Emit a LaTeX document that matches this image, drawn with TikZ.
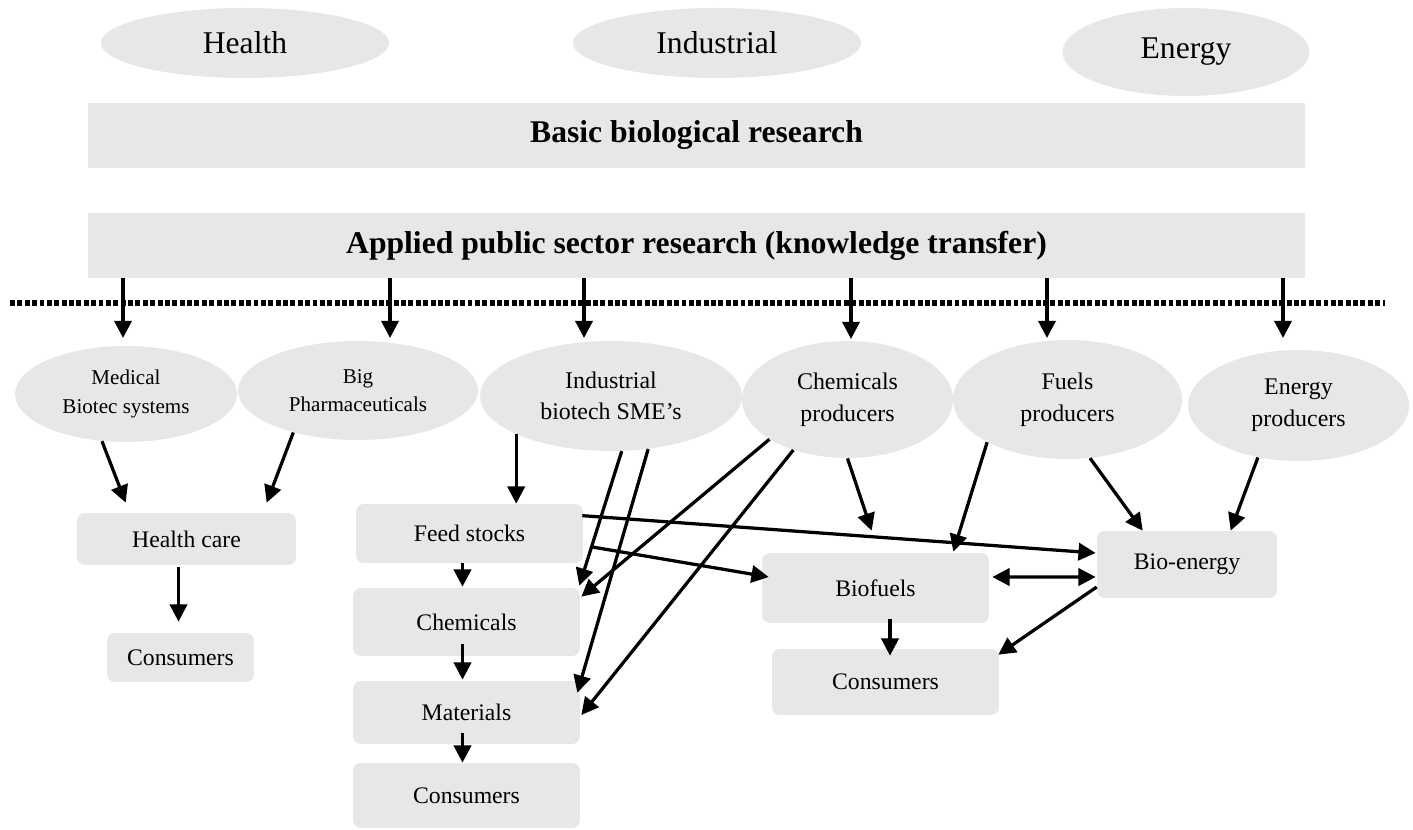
\documentclass[tikz,border=0pt]{standalone}
\usepackage{fontspec}
\setmainfont{Liberation Serif}
\usetikzlibrary{shapes.geometric,arrows.meta,calc}
\definecolor{boxgray}{RGB}{230,231,232}
\begin{document}
\begin{tikzpicture}[x=0.02cm,y=-0.02cm,
  topell/.style={ellipse, fill=boxgray, inner sep=0pt, font=\fontsize{18}{22}\selectfont},
  midell/.style={ellipse, fill=boxgray, inner sep=0pt, align=center, font=\fontsize{13.6}{18}\selectfont},
  smallell/.style={ellipse, fill=boxgray, inner sep=0pt, align=center, font=\fontsize{12}{16}\selectfont},
  bar/.style={rectangle, fill=boxgray, inner sep=0pt, font=\bfseries\fontsize{18}{22}\selectfont, minimum width=24.34cm, minimum height=1.3cm},
  gbox/.style={rectangle, rounded corners=4.5pt, fill=boxgray, inner sep=0pt, font=\fontsize{13.5}{16}\selectfont},
  arr/.style={-{Triangle[length=9.8pt,width=9.8pt]}, line width=1.85pt},
  arrtwo/.style={{Triangle[length=9.8pt,width=9.8pt]}-{Triangle[length=9.8pt,width=9.8pt]}, line width=1.85pt},
  dotline/.style={line width=3pt, dash pattern=on 2.8pt off 1.4pt}
]
\useasboundingbox (0,0) rectangle (1413,830);

% top ellipses
\node[topell, minimum width=5.76cm, minimum height=1.4cm] (health) at (245,43) {Health};
\node[topell, minimum width=5.76cm, minimum height=1.4cm] (industrial) at (717,43) {Industrial};
\node[topell, minimum width=4.94cm, minimum height=1.76cm] (energy) at (1186,52) {Energy};

% bars
\node[bar] (basic) at (696.5,135.5) {Basic biological research};
\node[bar] (applied) at (696.5,245.5) {Applied public sector research (knowledge transfer)};

% dotted line
\coordinate (dl) at (10,303);
\coordinate (dr) at (1385,303);
\draw[dotline] (dl) -- (dr);

% producer ellipses
\node[smallell, minimum width=4.44cm, minimum height=1.92cm] (med) at (126,394) {Medical\\Biotec systems};
\node[smallell, minimum width=4.8cm, minimum height=1.98cm] (pharma) at (358,390.5) {Big\\Pharmaceuticals};
\node[midell, minimum width=5.24cm, minimum height=2.2cm] (isme) at (611,396) {Industrial\\biotech SME’s};
\node[midell, minimum width=4.22cm, minimum height=2.34cm] (chemp) at (847.5,399.5) {Chemicals\\producers};
\node[midell, minimum width=4.58cm, minimum height=2.38cm] (fuelsp) at (1067.5,399.5) {Fuels\\producers};
\node[midell, minimum width=4.42cm, minimum height=2.22cm] (energyp) at (1298.5,405.5) {Energy\\producers};

% boxes
\node[gbox, minimum width=4.38cm, minimum height=1.04cm] (hc) at (186.5,539) {Health care};
\node[gbox, minimum width=2.94cm, minimum height=0.98cm] (consL) at (180.5,657.5) {Consumers};
\node[gbox, minimum width=4.54cm, minimum height=1.18cm] (feed) at (469.5,533.5) {Feed stocks};
\node[gbox, minimum width=4.54cm, minimum height=1.36cm] (chem) at (466.5,622) {Chemicals};
\node[gbox, minimum width=4.54cm, minimum height=1.26cm] (mat) at (466.5,712.5) {Materials};
\node[gbox, minimum width=4.54cm, minimum height=1.3cm] (consM) at (466.5,795.5) {Consumers};
\node[gbox, minimum width=4.54cm, minimum height=1.4cm] (biofuels) at (875.5,588) {Biofuels};
\node[gbox, minimum width=4.54cm, minimum height=1.32cm] (consR) at (885.5,682) {Consumers};
\node[gbox, minimum width=3.6cm, minimum height=1.34cm] (bioe) at (1187,564.5) {Bio-energy\hspace{0.48cm}};

% arrows from applied research
\coordinate (d1) at (123,338);
\coordinate (d2) at (390,338);
\coordinate (d3) at (584,338);
\coordinate (d4) at (851,339);
\coordinate (d5) at (1047,338);
\coordinate (d6) at (1283,338);
\foreach \n in {1,...,6} \draw[arr] (applied.south -| d\n) -- (d\n);

% health branch
\draw[arr] (med.243) -- ([shift={(49,-10)}]hc.north west);
\draw[arr] (pharma.213) -- ([shift={(190,-10)}]hc.north west);
\draw[arr] ([shift={(-8,2)}]hc.south) -- ([shift={(-2,-11)}]consL.north);

% industrial branch
\draw[arr] (isme.202) -- (isme.202 |- feed.north);
\draw[arr] ([shift={(-7,0)}]feed.south) -- ([shift={(-4,-1)}]chem.north);
\draw[arr] ([shift={(-4,-12)}]chem.south) -- ([shift={(-4,-1)}]mat.north);
\draw[arr] ([shift={(-4,-11)}]mat.south) -- ([shift={(-4,0)}]consM.north);
\draw[arr] (isme.281) -- ([shift={(-1,-2)}]chem.north east);
\draw[arr] (isme.305) -- ([shift={(-3,12)}]mat.north east);
\draw[arr] (chemp.207) -- ([shift={(1,9)}]chem.north east);
\draw[arr] (chemp.223) -- ([shift={(1,2.5)}]mat.east);

% energy branch
\draw[arr] (chemp.south) -- ([shift={(110,-22)}]biofuels.north west);
\draw[arr] (fuelsp.208) -- ([shift={(-36,-1)}]biofuels.north east);
\draw[arr] (fuelsp.291) -- ([shift={(46,0)}]bioe.north west);
\draw[arr] (energyp.232) -- ([shift={(134,0)}]bioe.north west);
\draw[arr] ([shift={(-1,12)}]feed.north east) -- ([shift={(-1,-11.5)}]bioe.west);
\draw[arr] ([shift={(9,13.5)}]feed.east) -- ([shift={(7,-11)}]biofuels.west);
\draw[arrtwo] ([shift={(3,-11)}]biofuels.east) -- ([shift={(-1,12.5)}]bioe.west);
\draw[arr] ([shift={(0,22.5)}]bioe.west) -- ([shift={(-1,6)}]consR.north east);
\draw[arr] ([shift={(14.5,-4)}]biofuels.south) -- ([shift={(4.5,7)}]consR.north);
\end{tikzpicture}
\end{document}
